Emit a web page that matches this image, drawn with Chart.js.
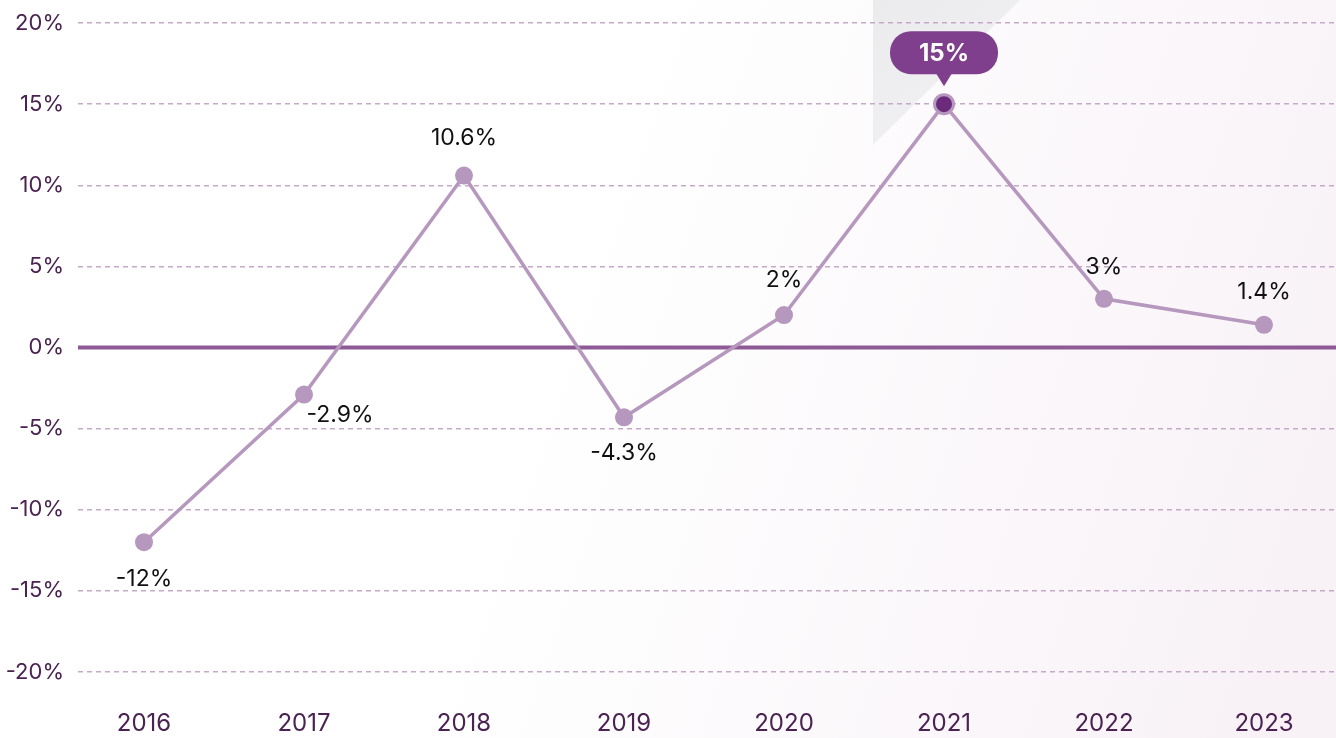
<!DOCTYPE html>
<html>
<head>
<meta charset="utf-8">
<script src="https://cdn.jsdelivr.net/npm/chart.js@4.4.1/dist/chart.umd.min.js"></script>
<style>
  html, body { margin: 0; padding: 0; background: #ffffff; }
  #wrap { width: 1336px; height: 738px; }
</style>
</head>
<body>
<div id="wrap"><canvas id="c" width="1336" height="738"></canvas></div>
<script>
// ---- Data ----
const categories = ['2016', '2017', '2018', '2019', '2020', '2021', '2022', '2023'];
const growthValues = [-12, -2.9, 10.6, -4.3, 2, 15, 3, 1.4];
const yTickValues = [-20, -15, -10, -5, 0, 5, 10, 15, 20];
const labelPlacement = ['below', 'belowRight', 'above', 'below', 'above', 'callout', 'above', 'above'];
const labelGap = [37, 21, 37, 36, 35, 0, 32, 33];
const highlightIndex = 5;

const FONT = 'Inter, "Noto Sans", sans-serif';
const LINE_COLOR = '#b697bd';
const AXIS_TEXT = '#4b2352';

const bgPlugin = {
  id: 'bg',
  beforeDraw(chart) {
    const { ctx, width, height } = chart;
    ctx.save();
    const g = ctx.createLinearGradient(0, 0, width, height * 0.6);
    g.addColorStop(0, '#ffffff');
    g.addColorStop(0.45, '#ffffff');
    g.addColorStop(1, '#f8f2f7');
    ctx.fillStyle = g;
    ctx.fillRect(0, 0, width, height);
    // decorative grey triangle behind the highlighted year
    const xs = chart.scales.x;
    const cx = xs.getPixelForValue(highlightIndex);
    const tg = ctx.createLinearGradient(cx - 70, 0, cx + 20, 140);
    tg.addColorStop(0, '#ebebed');
    tg.addColorStop(1, '#f1f0f3');
    ctx.fillStyle = tg;
    ctx.beginPath();
    ctx.moveTo(cx - 71, 0);
    ctx.lineTo(cx + 76, 0);
    ctx.lineTo(cx - 71, 145);
    ctx.closePath();
    ctx.fill();
    ctx.restore();
  },
  beforeDatasetsDraw(chart) {
    const { ctx, chartArea } = chart;
    const y0 = chart.scales.y.getPixelForValue(0);
    ctx.save();
    ctx.strokeStyle = '#8d5a95';
    ctx.lineWidth = 4;
    ctx.beginPath();
    ctx.moveTo(chartArea.left, y0);
    ctx.lineTo(chartArea.right, y0);
    ctx.stroke();
    ctx.restore();
  }
};

const labelPlugin = {
  id: 'valueLabels',
  afterDatasetsDraw(chart) {
    const { ctx } = chart;
    const meta = chart.getDatasetMeta(0);
    ctx.save();
    meta.data.forEach((pt, i) => {
      const txt = growthValues[i] + '%';
      const p = labelPlacement[i];
      if (p === 'callout') {
        ctx.font = 'bold 24px ' + FONT;
        const w = 108, h = 43, r = 21;
        const bx = pt.x - w / 2, by = pt.y - 73;
        ctx.fillStyle = '#7f3f8c';
        ctx.beginPath();
        ctx.roundRect(bx, by, w, h, r);
        ctx.fill();
        ctx.beginPath();
        ctx.moveTo(pt.x - 8, by + h - 1);
        ctx.lineTo(pt.x + 8, by + h - 1);
        ctx.lineTo(pt.x, by + h + 12);
        ctx.closePath();
        ctx.fill();
        ctx.fillStyle = '#ffffff';
        ctx.textAlign = 'center';
        ctx.textBaseline = 'middle';
        ctx.fillText(txt, pt.x, by + h / 2 + 1);
        return;
      }
      ctx.font = '23px ' + FONT;
      ctx.fillStyle = '#111111';
      ctx.textAlign = 'center';
      ctx.textBaseline = 'middle';
      let x = pt.x, y = pt.y;
      const gap = labelGap[i];
      if (p === 'above') y -= gap;
      else if (p === 'below') y += gap;
      else if (p === 'belowRight') { x += 36; y += gap; }
      ctx.fillText(txt, x, y);
    });
    ctx.restore();
  }
};

new Chart(document.getElementById('c'), {
  type: 'line',
  data: {
    datasets: [{
      data: growthValues.map((v, i) => ({ x: i, y: v })),
      borderColor: LINE_COLOR,
      borderWidth: 3.5,
      tension: 0,
      pointRadius: (c) => c.dataIndex === highlightIndex ? 9.5 : 9,
      pointBackgroundColor: (c) => c.dataIndex === highlightIndex ? '#6b2a7a' : LINE_COLOR,
      pointBorderColor: LINE_COLOR,
      pointBorderWidth: (c) => c.dataIndex === highlightIndex ? 3 : 0,
      pointHoverRadius: 9,
      clip: false
    }]
  },
  options: {
    responsive: false,
    animation: false,
    events: [],
    layout: { autoPadding: false, padding: { top: 23, right: 0, left: 0, bottom: 0 } },
    plugins: { legend: { display: false }, tooltip: { enabled: false } },
    scales: {
      x: {
        type: 'linear',
        min: -0.4125,
        max: 7.45,
        afterBuildTicks(scale) {
          scale.ticks = categories.map((c, i) => ({ value: i }));
        },
        afterFit(scale) { scale.height = 66; scale.paddingLeft = 0; scale.paddingRight = 0; },
        grid: { display: false, drawTicks: false },
        border: { display: false },
        ticks: {
          padding: 37,
          color: AXIS_TEXT,
          font: { family: FONT, size: 24 },
          callback: (v) => categories[v] ?? '',
          maxRotation: 0,
          autoSkip: false
        }
      },
      y: {
        min: -20,
        max: 20,
        afterBuildTicks(scale) {
          scale.ticks = yTickValues.map(v => ({ value: v }));
        },
        afterFit(scale) { scale.width = 78; scale.paddingTop = 0; scale.paddingBottom = 0; },
        grid: {
          drawTicks: false,
          color: (c) => c.tick && c.tick.value === 0 ? 'rgba(0,0,0,0)' : '#c5a9c8',
          lineWidth: 1.5
        },
        border: { display: false, dash: [5, 4] },
        ticks: {
          padding: 14,
          color: AXIS_TEXT,
          font: { family: FONT, size: 22 },
          callback: (v) => v + '%'
        }
      }
    }
  },
  plugins: [bgPlugin, labelPlugin]
});
</script>
</body>
</html>
